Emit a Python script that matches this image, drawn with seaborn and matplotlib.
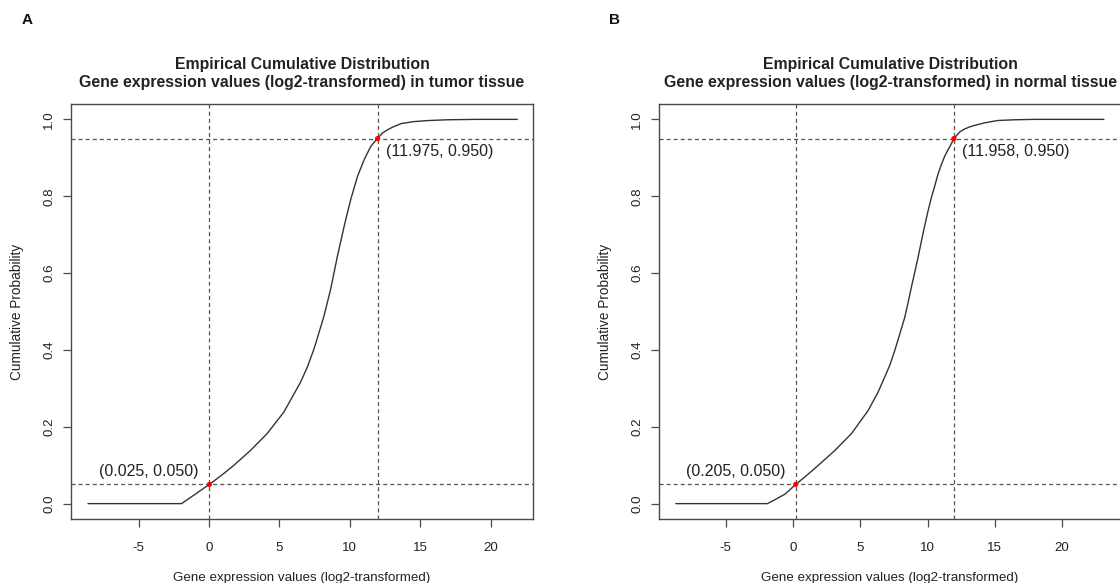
import matplotlib
matplotlib.use("Agg")
import matplotlib.pyplot as plt
import seaborn as sns
import pandas as pd

# ---------------- data ----------------
tumor_x = [-8.6, -1.95, -1.6, -1.0, -0.5, 0.025, 1.0, 1.74, 2.93, 4.12, 5.31, 6.5,
           6.98, 7.45, 7.81, 8.17, 8.4, 8.64, 9.12, 9.36, 9.6, 9.83, 10.07, 10.31,
           10.55, 11.02, 11.26, 11.5, 11.74, 11.975, 12.33, 12.69, 13.05, 13.64,
           14.5, 15.6, 17.0, 19.0, 21.9]
tumor_y = [0.0, 0.0, 0.009, 0.024, 0.037, 0.05, 0.077, 0.099, 0.138, 0.182, 0.238, 0.316,
           0.355, 0.402, 0.445, 0.489, 0.523, 0.558, 0.644, 0.683, 0.722, 0.757, 0.792, 0.822,
           0.852, 0.895, 0.913, 0.93, 0.941, 0.95, 0.965, 0.973, 0.98, 0.989,
           0.994, 0.997, 0.999, 1.0, 1.0]

normal_x = [-8.7, -1.9, -1.38, -0.58, 0.205, 1.0, 1.86, 3.1, 4.34, 5.58, 6.32, 6.81,
            7.18, 7.56, 7.93, 8.3, 8.55, 8.79, 9.04, 9.29, 9.54, 9.78, 10.03, 10.28,
            10.53, 10.77, 11.02, 11.27, 11.52, 11.64, 11.958, 12.38, 12.75, 13.25,
            14.24, 15.2, 16.5, 18.0, 23.1]
normal_y = [0.0, 0.0, 0.0095, 0.025, 0.05, 0.073, 0.099, 0.138, 0.182, 0.242, 0.29, 0.329,
            0.359, 0.398, 0.441, 0.484, 0.523, 0.562, 0.601, 0.64, 0.683, 0.722, 0.761, 0.796,
            0.826, 0.857, 0.882, 0.904, 0.921, 0.928, 0.95, 0.967, 0.975, 0.982,
            0.991, 0.997, 0.999, 1.0, 1.0]

quantile_probs = [0.05, 0.95]
tumor_quantiles = [0.025, 11.975]
normal_quantiles = [0.205, 11.958]

panel_letters = ["A", "B"]
tissues = ["tumor", "normal"]
x_ticks = [-5, 0, 5, 10, 15, 20]
y_ticks = [0.0, 0.2, 0.4, 0.6, 0.8, 1.0]
title_line1 = "Empirical Cumulative Distribution"
title_line2 = "Gene expression values (log2-transformed) in {} tissue"
x_label = "Gene expression values (log2-transformed)"
y_label = "Cumulative Probability"

# ---------------- style ----------------
sns.set_style("ticks")
plt.rcParams["font.family"] = ["Liberation Sans", "DejaVu Sans"]
plt.rcParams["lines.scale_dashes"] = False

W, H = 1120, 583
fig = plt.figure(figsize=(W / 100, H / 100), dpi=100)

ax_w = 462.5 / W
ax_h = (519 - 104) / H
ax_b = 1 - 519 / H
rects = [[70.7 / W, ax_b, ax_w, ax_h], [658.9 / W, ax_b, ax_w, ax_h]]
xlims = [(-9.83, 23.03), (-9.96, 24.4)]
letter_x = [27, 615]

spine_col = "#4a4a4a"
dash_col = "#555555"
curve_col = "#333333"
text_col = "#222222"

datasets = [(tumor_x, tumor_y, tumor_quantiles), (normal_x, normal_y, normal_quantiles)]

for i in range(2):
    xs, ys, qs = datasets[i]
    ax = fig.add_axes(rects[i])
    df = pd.DataFrame({"x": xs, "y": ys})
    sns.lineplot(data=df, x="x", y="y", ax=ax, color=curve_col, linewidth=1.0,
                 sort=False, estimator=None)

    for q in qs:
        ax.axvline(q, color=dash_col, linewidth=0.9, linestyle=(0, (2.9, 2.2)), zorder=1)
    for p in quantile_probs:
        ax.axhline(p, color=dash_col, linewidth=0.9, linestyle=(0, (2.9, 2.2)), zorder=1)

    qdf = pd.DataFrame({"x": qs, "y": quantile_probs})
    sns.scatterplot(data=qdf, x="x", y="y", ax=ax, color="red", s=14,
                    edgecolor="none", zorder=5)

    # labels of quantile points
    ax.annotate(f"({qs[0]:.3f}, {quantile_probs[0]:.3f})", xy=(qs[0], quantile_probs[0]),
                xytext=(-7.5, 9.6), textcoords="offset points", ha="right", va="center",
                fontsize=11.5, color=text_col)
    ax.annotate(f"({qs[1]:.3f}, {quantile_probs[1]:.3f})", xy=(qs[1], quantile_probs[1]),
                xytext=(6.0, -9.2), textcoords="offset points", ha="left", va="center",
                fontsize=11.5, color=text_col)

    ax.set_xlim(*xlims[i])
    ax.set_ylim(-0.04, 1.04)
    ax.set_xticks(x_ticks)
    ax.set_xticklabels([str(t) for t in x_ticks])
    ax.set_yticks(y_ticks)
    ax.set_yticklabels([f"{t:.1f}" for t in y_ticks], rotation=90, va="center")

    for sp in ax.spines.values():
        sp.set_color(spine_col)
        sp.set_linewidth(1.0)
    ax.tick_params(axis="both", length=5.8, width=0.9, color=spine_col,
                   labelsize=9.6, labelcolor=text_col)
    ax.tick_params(axis="x", pad=11)
    ax.tick_params(axis="y", pad=5.5)

    ax.set_xlabel(x_label, fontsize=9.6, color=text_col, labelpad=13)
    ax.set_ylabel(y_label, fontsize=9.8, color=text_col, labelpad=14)

    cx = (rects[i][0] + ax_w / 2)
    fig.text(cx, 1 - 64.0 / H, title_line1, ha="center", va="center",
             fontsize=11.4, fontweight="bold", color=text_col)
    fig.text(cx, 1 - 83.0 / H, title_line2.format(tissues[i]), ha="center", va="center",
             fontsize=11.4, fontweight="bold", color=text_col)
    fig.text(letter_x[i] / W, 1 - 20 / H, panel_letters[i], ha="center", va="center",
             fontsize=11, fontweight="bold", color="#111111")

fig.savefig("out.png", dpi=100)
